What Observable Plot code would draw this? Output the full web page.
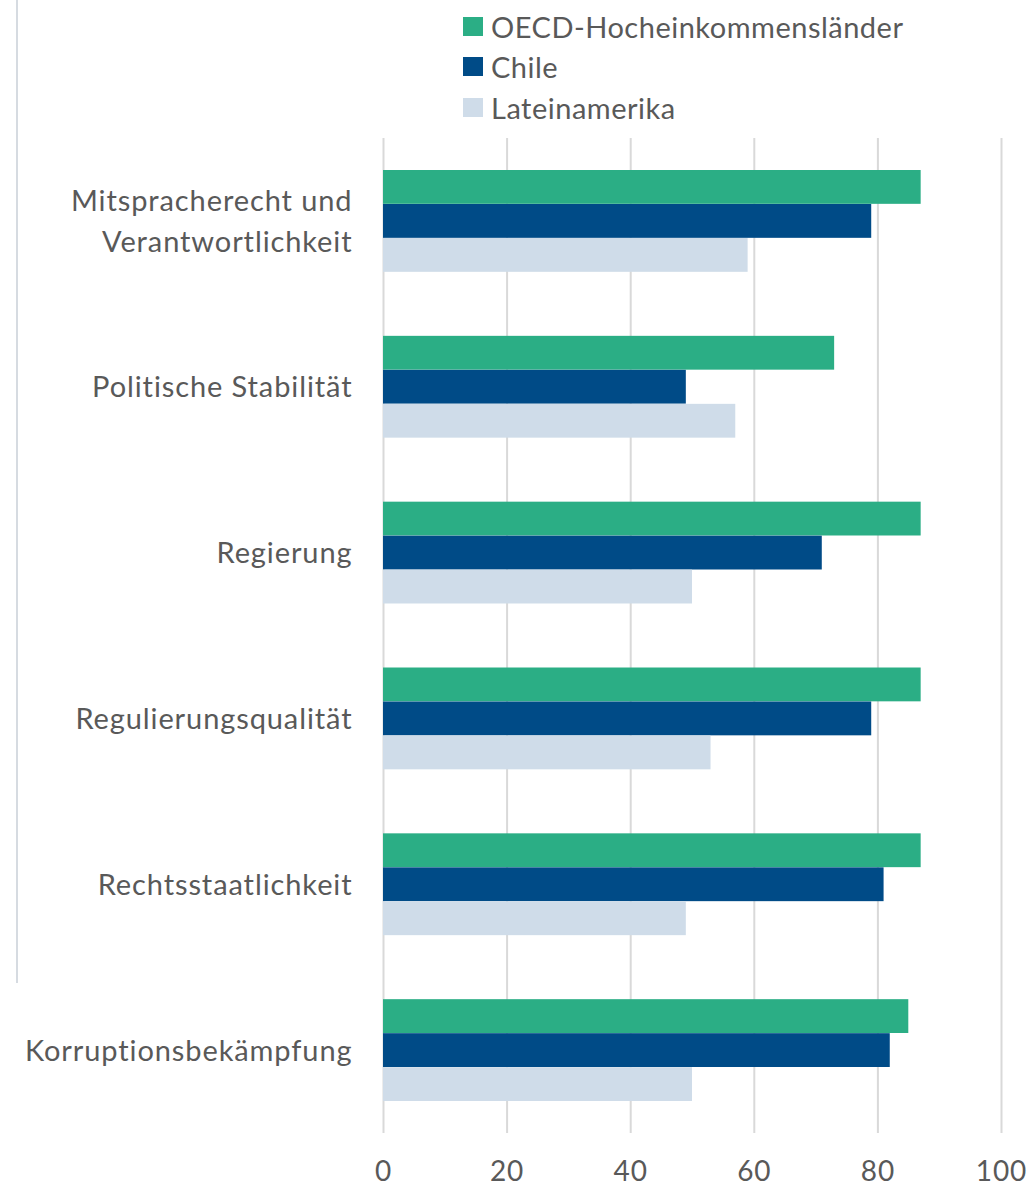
<!DOCTYPE html>
<html>
<head>
<meta charset="utf-8">
<script src="https://cdn.jsdelivr.net/npm/d3@7"></script>
<script src="https://cdn.jsdelivr.net/npm/@observablehq/plot@0.6"></script>
<style>
  body { margin: 0; background: #fff; }
  #wrap { position: relative; width: 1027px; height: 1189px; font-family: Lato, "Open Sans", sans-serif; }
  #legend { position: absolute; left: 463px; top: 6px; }
  .item { display: flex; align-items: center; height: 40.5px; font-size: 29px; color: #595959; white-space: nowrap; letter-spacing: 0.5px; }
  .sw { width: 20px; height: 19px; margin-right: 8px; flex: none; }
  #edge { position: absolute; left: 16px; top: 0; width: 2px; height: 983px; background: #d6dbe1; }
  #chart { position: absolute; left: 0; top: 0; }
</style>
</head>
<body>
<div id="wrap">
  <div id="edge"></div>
  <div id="chart"></div>
  <div id="legend"></div>
</div>
<script>
const categories = [
  "Mitspracherecht und Verantwortlichkeit",
  "Politische Stabilität",
  "Regierung",
  "Regulierungsqualität",
  "Rechtsstaatlichkeit",
  "Korruptionsbekämpfung"
];
const series = ["OECD-Hocheinkommensländer", "Chile", "Lateinamerika"];
const oecd  = [87, 73, 87, 87, 87, 85];
const chile = [79, 49, 71, 79, 81, 82];
const latam = [59, 57, 50, 53, 49, 50];
const colors = ["#2bae85", "#004b87", "#cfdce9"];
const xTicks = [0, 20, 40, 60, 80, 100];

const valuesBySeries = [oecd, chile, latam];
const rows = [];
series.forEach((s, si) => categories.forEach((c, ci) => rows.push({series: s, category: c, value: valuesBySeries[si][ci]})));

// legend
const legend = document.getElementById("legend");
series.forEach((s, i) => {
  const it = document.createElement("div");
  it.className = "item";
  it.innerHTML = `<span class="sw" style="background:${colors[i]}"></span><span>${s}</span>`;
  legend.appendChild(it);
});

const barH = 34;
const insets = [[0, 2 * barH], [barH, barH], [2 * barH, 0]];

const chart = Plot.plot({
  width: 1027,
  height: 1189,
  marginLeft: 383,
  marginRight: 26,
  marginTop: 138,
  marginBottom: 56,
  style: { fontFamily: "Lato, 'Open Sans', sans-serif", color: "#595959", background: "transparent", letterSpacing: "0.9px" },
  x: { domain: [0, 100], label: null },
  y: { domain: categories, paddingInner: 0.386, paddingOuter: 0.193, round: false, label: null },
  marks: [
    Plot.gridX(xTicks, { stroke: "#d9d9d9", strokeOpacity: 1, strokeWidth: 2 }),
    ...series.map((s, i) => Plot.barX(rows.filter(d => d.series === s), {
      x: "value", y: "category", fill: colors[i],
      insetTop: insets[i][0], insetBottom: insets[i][1]
    })),
    Plot.axisX({ ticks: xTicks, tickSize: 0, tickPadding: 28, fontSize: 28, fill: "#595959", label: null }),
    Plot.axisY({ tickSize: 0, tickPadding: 31, fontSize: 29, lineHeight: 1.4, fill: "#595959", dy: -3, label: null,
      tickFormat: d => d.replace(" und ", " und\n") })
  ]
});
document.getElementById("chart").appendChild(chart);
</script>
</body>
</html>
